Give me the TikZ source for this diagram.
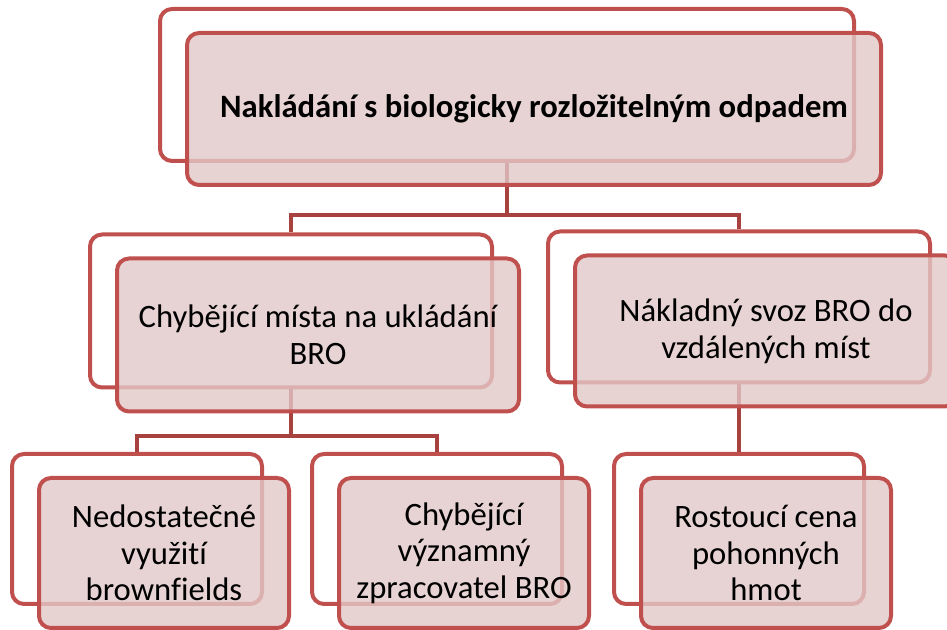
\documentclass[tikz,border=0pt]{standalone}
\usepackage{fontspec}
\setmainfont{Carlito}[Ligatures=NoCommon]
\usepackage{tikz}
\usetikzlibrary{calc}
\definecolor{boxline}{RGB}{192,80,77}
\definecolor{boxfill}{RGB}{226,200,200}
\definecolor{linkline}{RGB}{168,66,63}
\tikzset{
  backbox/.style={draw=boxline, line width=3pt, fill=white, rounded corners=9pt, inner sep=0pt},
  frontbox/.style={draw=boxline, line width=3pt, fill=boxfill, fill opacity=0.8, text opacity=1,
    rounded corners=9pt, inner sep=0pt, align=center, font=\fontsize{24.5}{27.5}\selectfont},
  link/.style={draw=linkline, line width=3pt}
}
\newcommand{\backbox}[5]{ \node[backbox, minimum width={#4*0.75pt}, minimum height={#5*0.75pt}] (#1) at ( #2 , #3 ) {};}
\newcommand{\frontbox}[4]{ \node[frontbox, minimum width={#2*0.75pt}, minimum height={#3*0.75pt}] (#1f) at ($(#1)+(27,24)$) {#4};}

\begin{document}
\begin{tikzpicture}[x=0.75pt, y=-0.75pt]
\useasboundingbox (0,0) rectangle (947,630);
% back boxes
\backbox{top}{507}{85}{694}{152}
\backbox{holes}{291}{311}{402}{153}
\backbox{haul}{739}{307}{382}{151}
\backbox{brown}{137}{529}{250}{150}
\backbox{plant}{437}{529}{250}{150}
\backbox{fuel}{739}{529}{250}{150}
% connectors
\draw[link] (top.south) -- ++(0,52) -| (holes.north);
\draw[link] (top.south) -- ++(0,52) -| (haul.north);
\draw[link] (holes.south) -- ++(0,47) -| (brown.north);
\draw[link] (holes.south) -- ++(0,47) -| (plant.north);
\draw[link] (haul.south) -- (fuel.north);
% front boxes
\frontbox{top}{694}{152}{\textbf{Nakládání s biologicky rozložitelným odpadem}}
\frontbox{holes}{402}{153}{Chybějící místa na ukládání\\BRO}
\frontbox{haul}{382}{151}{Nákladný svoz BRO do\\vzdálených míst}
\frontbox{brown}{250}{150}{Nedostatečné\\využití\\brownfields}
\frontbox{plant}{250}{150}{Chybějící\\významný\\zpracovatel BRO}
\frontbox{fuel}{250}{150}{Rostoucí cena\\pohonných\\hmot}
\end{tikzpicture}
\end{document}
